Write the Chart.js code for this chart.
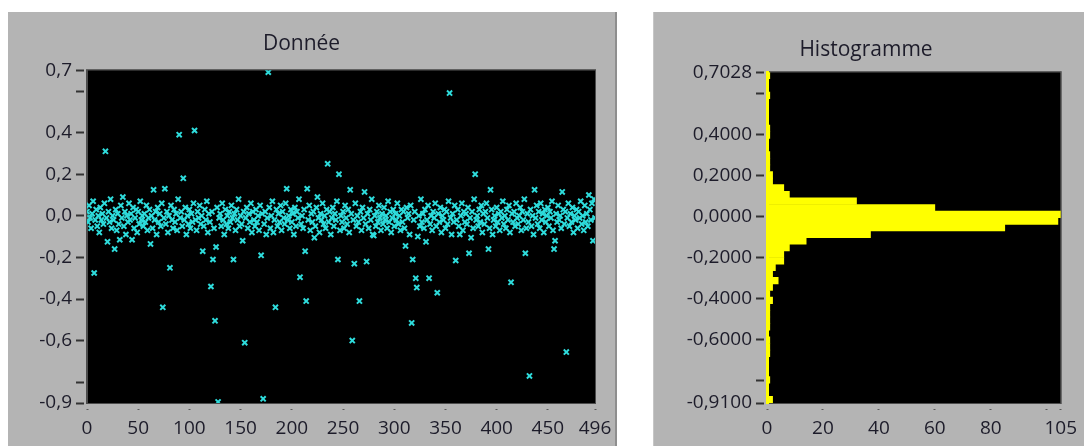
<!DOCTYPE html>
<html lang="fr">
<head>
<meta charset="utf-8">
<title>Donnée / Histogramme</title>
<script src="https://cdn.jsdelivr.net/npm/chart.js@4/dist/chart.umd.min.js"></script>
<style>
    html, body { margin: 0; padding: 0; background: #fff; }
    body { position: relative; width: 1084px; height: 446px; overflow: hidden; }
    .panneau { position: absolute; top: 12px; height: 434px; background: #b4b4b4; }
    #panneau-donnee { left: 8px; width: 607px; border-right: 2px solid #8e8e8e; }
    #panneau-histo { left: 653px; width: 431px; border-left: 1px solid #c6c6c6; }
    .zone { position: absolute; top: 12px; height: 434px; }
    #zone-donnee { left: 8px; width: 680px; }
    #zone-histo { left: 666px; width: 418px; }
</style>
</head>
<body>
<div class="panneau" id="panneau-donnee"></div>
<div class="panneau" id="panneau-histo"></div>
<div class="zone" id="zone-donnee"><canvas id="graphe-donnee"></canvas></div>
<div class="zone" id="zone-histo"><canvas id="graphe-histo"></canvas></div>

<script>
// =============================================================
//  Donnée (nuage de points) + Histogramme des valeurs
// =============================================================

// --- Donnée : une valeur par échantillon, indices 0 à 496 ---
const donnee = [
    0.02, -0.03, 0.05, -0.01, -0.06, 0.01, 0.07, -0.275, -0.02, 0.03,
    -0.05, 0.00, -0.08, 0.04, -0.02, 0.01, -0.04, 0.06, 0.31, -0.01,
    -0.125, 0.02, -0.03, 0.08, -0.06, 0.00, -0.02, -0.16, 0.03, -0.07,
    0.01, -0.04, -0.115, 0.05, -0.01, 0.09, -0.05, 0.02, -0.09, 0.00,
    -0.03, 0.06, -0.02, 0.01, -0.115, 0.04, -0.06, -0.01, 0.03, -0.08,
    0.02, -0.04, 0.07, -0.02, 0.00, -0.05, 0.01, -0.03, 0.05, -0.07,
    -0.01, 0.03, -0.135, 0.00, -0.06, 0.125, -0.02, 0.02, -0.09, 0.04,
    -0.03, 0.01, -0.05, 0.06, -0.44, -0.01, 0.13, -0.04, 0.02, -0.08,
    0.00, -0.25, 0.05, -0.02, -0.06, 0.03, -0.03, 0.01, -0.07, 0.08,
    0.39, -0.01, 0.02, -0.05, 0.18, -0.02, 0.04, -0.09, 0.00, -0.04,
    0.03, -0.06, 0.01, -0.03, 0.06, 0.41, -0.02, -0.07, 0.02, -0.01,
    0.05, -0.04, 0.00, -0.17, -0.05, 0.03, -0.02, 0.07, -0.08, 0.01,
    -0.03, -0.34, 0.02, -0.21, -0.06, -0.505, -0.15, 0.04, -0.895, -0.01,
    0.01, -0.05, 0.06, -0.02, -0.09, 0.03, -0.04, 0.00, -0.06, 0.02,
    -0.03, 0.05, -0.01, -0.21, 0.01, -0.07, 0.03, -0.02, 0.08, -0.05,
    0.00, -0.04, -0.12, 0.02, -0.61, -0.01, 0.04, -0.06, 0.01, -0.03,
    0.06, -0.08, 0.02, -0.02, -0.05, 0.03, -0.03, 0.00, -0.07, 0.05,
    -0.19, 0.01, -0.88, -0.04, 0.02, -0.09, -0.01, 0.69, 0.04, -0.06,
    0.00, 0.07, -0.08, -0.02, -0.44, 0.03, -0.05, 0.01, -0.03, 0.05,
    -0.07, 0.02, -0.01, -0.04, 0.06, 0.13, -0.02, 0.00, -0.06, 0.03,
    -0.03, 0.01, -0.09, 0.04, -0.05, 0.02, -0.01, 0.08, -0.295, -0.04,
    0.00, -0.06, 0.03, -0.17, -0.41, 0.13, -0.02, 0.05, -0.07, 0.01,
    -0.03, 0.02, -0.105, -0.05, 0.04, 0.09, -0.01, -0.08, 0.01, -0.02,
    0.06, -0.04, 0.00, -0.06, 0.03, 0.25, -0.03, 0.02, -0.09, -0.01,
    0.04, -0.05, 0.01, -0.02, 0.07, -0.21, 0.20, -0.07, 0.00, -0.03,
    0.02, -0.06, 0.05, -0.01, -0.04, 0.03, -0.08, 0.125, 0.01, -0.60,
    -0.02, -0.23, 0.06, -0.05, 0.00, -0.03, -0.41, 0.02, -0.07, 0.04,
    -0.01, 0.115, -0.04, -0.22, 0.01, -0.06, 0.03, -0.02, 0.08, -0.09,
    -0.095, 0.00, -0.05, 0.02, -0.03, 0.05, -0.01, -0.07, 0.01, -0.04,
    0.04, -0.02, 0.00, -0.06, 0.07, -0.03, 0.02, -0.08, -0.01, 0.03,
    -0.05, 0.01, -0.02, 0.06, -0.04, 0.00, -0.07, 0.03, -0.03, 0.02,
    -0.06, -0.145, 0.04, -0.01, 0.01, -0.09, 0.05, -0.515, -0.21, -0.02,
    0.02, -0.30, -0.345, -0.10, 0.00, -0.05, 0.08, -0.03, 0.01, -0.06,
    0.03, -0.125, -0.02, 0.05, -0.30, -0.04, 0.00, -0.07, 0.02, -0.01,
    0.06, -0.05, -0.37, 0.01, -0.03, 0.04, -0.08, 0.00, -0.02, 0.03,
    -0.06, 0.02, -0.04, 0.07, 0.59, -0.01, -0.09, 0.01, -0.03, 0.05,
    -0.215, -0.02, 0.03, -0.05, -0.09, 0.00, 0.06, -0.07, 0.02, -0.03,
    0.01, -0.04, 0.04, -0.18, -0.01, -0.105, 0.02, -0.06, 0.08, 0.20,
    -0.02, 0.00, -0.05, 0.03, -0.03, 0.05, -0.08, 0.01, -0.04, 0.02,
    0.06, -0.01, -0.16, -0.06, 0.125, 0.03, -0.09, -0.02, 0.00, -0.05,
    0.04, -0.03, 0.01, -0.07, 0.02, -0.01, 0.07, -0.04, 0.00, -0.06,
    0.03, -0.02, 0.05, -0.08, -0.32, 0.01, -0.03, 0.02, -0.05, 0.06,
    -0.01, -0.04, 0.00, 0.04, -0.07, 0.02, -0.02, 0.08, -0.18, -0.06,
    0.01, -0.03, -0.77, 0.03, -0.05, 0.00, -0.09, 0.125, -0.01, 0.05,
    -0.04, 0.02, -0.06, 0.06, -0.02, 0.01, -0.08, 0.03, -0.03, 0.00,
    0.04, -0.05, 0.02, -0.01, 0.07, -0.07, -0.16, -0.12, 0.01, -0.03,
    0.05, -0.02, 0.00, -0.06, 0.115, 0.03, -0.04, 0.02, -0.655, -0.01,
    0.06, -0.05, 0.01, -0.03, 0.04, -0.08, 0.00, -0.02, 0.03, -0.06,
    0.02, -0.01, 0.07, -0.04, 0.00, -0.07, 0.05, -0.03, 0.01, -0.05,
    0.10, 0.03, -0.02, 0.06, -0.12, 0.08, -0.01,
];

// --- Histogramme : centres des 50 classes et effectifs ---
const centresClasses = [
    -0.8939, -0.8615, -0.8294, -0.7971, -0.7648, -0.7326, -0.7003, -0.6681, -0.6358, -0.6036,
    -0.5713, -0.5391, -0.5068, -0.4745, -0.4423, -0.4100, -0.3778, -0.3455, -0.3133, -0.2810,
    -0.2488, -0.2165, -0.1842, -0.1520, -0.1197, -0.0875, -0.0552, -0.0230, 0.0093, 0.0416,
    0.0738, 0.1061, 0.1383, 0.1706, 0.2028, 0.2351, 0.2673, 0.2996, 0.3319, 0.3641,
    0.3964, 0.4286, 0.4609, 0.4931, 0.5254, 0.5576, 0.5899, 0.6222, 0.6544, 0.6867,
];
const effectifs = [
    2, 0, 0, 1, 0, 0, 0, 1, 1, 1,
    0, 1, 1, 1, 1, 2, 1, 2, 4, 2,
    3, 6, 6, 8, 14, 37, 85, 104, 105, 60,
    32, 8, 6, 2, 2, 1, 1, 1, 0, 0,
    1, 1, 0, 0, 0, 0, 1, 0, 0, 1,
];

// --- Graduations ---
const ticksXDonnee = [0, 50, 100, 150, 200, 250, 300, 350, 400, 450, 496];
const ticksYDonnee = [0.7, 0.6, 0.4, 0.2, 0, -0.2, -0.4, -0.6, -0.8, -0.9];
const ticksYDonneeSansTexte = [0.6, -0.8];
const ticksXHisto = [0, 20, 40, 60, 80, 100, 105];
const ticksXHistoSansTexte = [100];
const ticksYHisto = [0.7028, 0.6, 0.4, 0.2, 0, -0.2, -0.4, -0.6, -0.8, -0.91];
const ticksYHistoSansTexte = [0.6, -0.8];

const couleurTexte = '#1d1c2a';
const policeTicks = { family: '"Open Sans", sans-serif', size: 19, weight: '500' };
const policeTitre = { family: '"Open Sans", sans-serif', size: 21, weight: '500' };

// fond noir + cadre gris de la zone de tracé
const fondNoir = {
    id: 'fondNoir',
    beforeDraw(chart) {
        const { ctx, chartArea: a } = chart;
        ctx.save();
        ctx.fillStyle = '#000';
        ctx.fillRect(a.left, a.top, a.right - a.left, a.bottom - a.top);
        ctx.strokeStyle = '#4c4c4c';
        ctx.lineWidth = 1;
        ctx.strokeRect(a.left - 0.5, a.top - 0.5, a.right - a.left + 1, a.bottom - a.top + 1);
        ctx.restore();
    },
};

const virgule = (v, n) => v.toFixed(n).replace('.', ',');

function axeX(ticks, sansTexte, min, max) {
    return {
        type: 'linear',
        min, max,
        afterBuildTicks: (s) => { s.ticks = ticks.map((v) => ({ value: v })); },
        afterFit: (s) => { s.height = 43; },
        ticks: {
            autoSkip: false, maxRotation: 0, padding: 7,
            color: couleurTexte, font: policeTicks,
            callback: (v) => (sansTexte.includes(v) ? '' : String(v)),
        },
        grid: {
            drawOnChartArea: false, offset: false,
            tickLength: 7, tickWidth: 2, tickColor: '#5a5a5a',
            tickBorderDash: [0, 5, 2, 20],
        },
        border: { color: '#4c4c4c', width: 1 },
    };
}

function axeY(ticks, sansTexte, min, max, decimales, largeur, bordure) {
    return {
        type: 'linear',
        min, max,
        offset: false,
        afterBuildTicks: (s) => { s.ticks = ticks.map((v) => ({ value: v })); },
        afterFit: (s) => { s.width = largeur; },
        ticks: {
            autoSkip: false, padding: 4,
            color: couleurTexte, font: policeTicks,
            callback: (v) => (sansTexte.includes(v) ? '' : virgule(v, decimales)),
        },
        grid: {
            drawOnChartArea: false, offset: false,
            tickLength: 11, tickWidth: 2, tickColor: '#333',
            tickBorderDash: [8, 10],
        },
        border: bordure,
    };
}

new Chart(document.getElementById('graphe-donnee'), {
    type: 'scatter',
    data: {
        datasets: [{
            label: 'Donnée',
            data: donnee.map((v, i) => ({ x: i, y: v })),
            pointStyle: 'crossRot',
            pointRadius: 3.6,
            pointBorderWidth: 2,
            borderColor: 'rgb(46, 220, 220)',
            backgroundColor: 'rgb(46, 220, 220)',
            clip: 0,
        }],
    },
    options: {
        responsive: true,
        maintainAspectRatio: false,
        animation: false,
        events: [],
        layout: { padding: { left: 0, right: 93, top: 0, bottom: 0 } },
        scales: {
            x: axeX(ticksXDonnee, [], 0, 496),
            y: axeY(ticksYDonnee, ticksYDonneeSansTexte, -0.9, 0.7, 1, 79, { color: '#4c4c4c', width: 1 }),
        },
        plugins: {
            legend: { display: false },
            tooltip: { enabled: false },
            title: {
                display: true, text: 'Donnée', color: couleurTexte, font: policeTitre,
                padding: { top: 19, bottom: 14 },
            },
        },
    },
    plugins: [fondNoir],
});

new Chart(document.getElementById('graphe-histo'), {
    type: 'bar',
    data: {
        datasets: [{
            label: 'Histogramme',
            data: centresClasses.map((c, i) => ({ x: effectifs[i], y: c })),
            backgroundColor: '#ffff00',
            borderWidth: 0,
            barPercentage: 1,
            categoryPercentage: 1,
            clip: 0,
        }],
    },
    options: {
        indexAxis: 'y',
        responsive: true,
        maintainAspectRatio: false,
        animation: false,
        events: [],
        layout: { padding: { left: 0, right: 18, top: 0, bottom: 0 } },
        scales: {
            x: axeX(ticksXHisto, ticksXHistoSansTexte, 0, 105),
            y: axeY(ticksYHisto, ticksYHistoSansTexte, -0.91, 0.7028, 4, 101, { color: '#ffff00', width: 3 }),
        },
        plugins: {
            legend: { display: false },
            tooltip: { enabled: false },
            title: {
                display: true, text: 'Histogramme', color: couleurTexte, font: policeTitre,
                padding: { top: 25, bottom: 10 },
            },
        },
    },
    plugins: [fondNoir],
});
</script>
</body>
</html>
